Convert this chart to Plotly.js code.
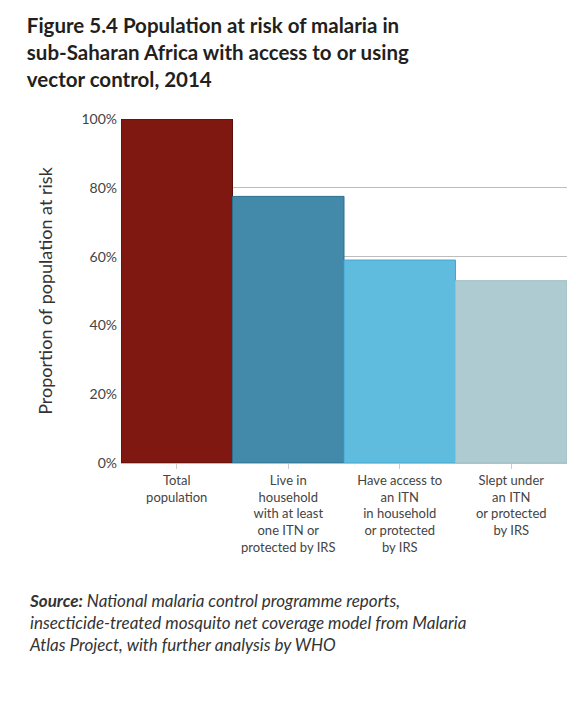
<!DOCTYPE html>
<html>
<head>
<meta charset="utf-8">
<script src="https://cdn.plot.ly/plotly-3.0.1.min.js"></script>
<style>
  html, body { margin: 0; padding: 0; background: #fff; }
  #chart { width: 583px; height: 709px; }
</style>
</head>
<body>
<div id="chart"></div>
<script>
// data
var categories = [
  'Total<br>population',
  'Live in<br>household<br>with at least<br>one ITN or<br>protected by IRS',
  'Have access to<br>an ITN<br>in household<br>or protected<br>by IRS',
  'Slept under<br>an ITN<br>or protected<br>by IRS'
];
var shares = [100, 77.5, 59, 53];
var barColors = ['#7e1811', '#438aaa', '#5fbcdf', '#adcbd1'];
var edgeColors = ['#5c0f0a', '#2b6e8e', '#43a8d1', '#9dbec5'];
var yTicks = [0, 20, 40, 60, 80, 100];
var yTickText = ['0%', '20%', '40%', '60%', '80%', '100%'];

var trace = {
  x: categories,
  y: shares,
  type: 'bar',
  marker: { color: barColors, line: { color: edgeColors, width: 1 } },
  hoverinfo: 'none'
};

var layout = {
  width: 583,
  height: 709,
  margin: { t: 119, b: 246, l: 121, r: 16 },
  paper_bgcolor: '#fff',
  plot_bgcolor: '#fff',
  font: { family: 'Lato, sans-serif', color: '#444' },
  bargap: 0,
  showlegend: false,
  title: {
    text: 'Figure 5.4 Population at risk of malaria in<br>sub-Saharan Africa with access to or using<br>vector control, 2014',
    font: { family: 'Lato, sans-serif', size: 20.5, color: '#231f20', weight: 'bold' },
    x: 0.046, xanchor: 'left', xref: 'container',
    y: 0.953, yanchor: 'top', yref: 'container'
  },
  xaxis: {
    type: 'category',
    tickfont: { size: 13, color: '#444' },
    ticks: 'outside', ticklen: 5, tickcolor: '#ccc', tickwidth: 1,
    showgrid: false, showline: false, zeroline: false
  },
  yaxis: {
    range: [0, 100],
    tickvals: yTicks,
    ticktext: yTickText,
    tickfont: { size: 14, color: '#444' },
    showgrid: true, gridcolor: '#bdbdbd', gridwidth: 1,
    zeroline: true, zerolinecolor: '#bdbdbd', zerolinewidth: 1,
    showline: false,
    ticklabelstandoff: 3,
    title: {
      text: 'Proportion of population at risk',
      font: { size: 18, color: '#333' },
      standoff: 24
    }
  },
  annotations: [{
    xref: 'paper', yref: 'paper',
    x: -0.211, y: -0.364, xanchor: 'left', yanchor: 'top', align: 'left',
    showarrow: false,
    text: '<b><i>Source:</i></b><i> National malaria control programme reports,<br>insecticide-treated mosquito net coverage model from Malaria<br>Atlas Project, with further analysis by WHO</i>',
    font: { family: 'Lato, sans-serif', size: 17, color: '#333' }
  }]
};

Plotly.newPlot('chart', [trace], layout, { displayModeBar: false, staticPlot: true });
</script>
</body>
</html>
